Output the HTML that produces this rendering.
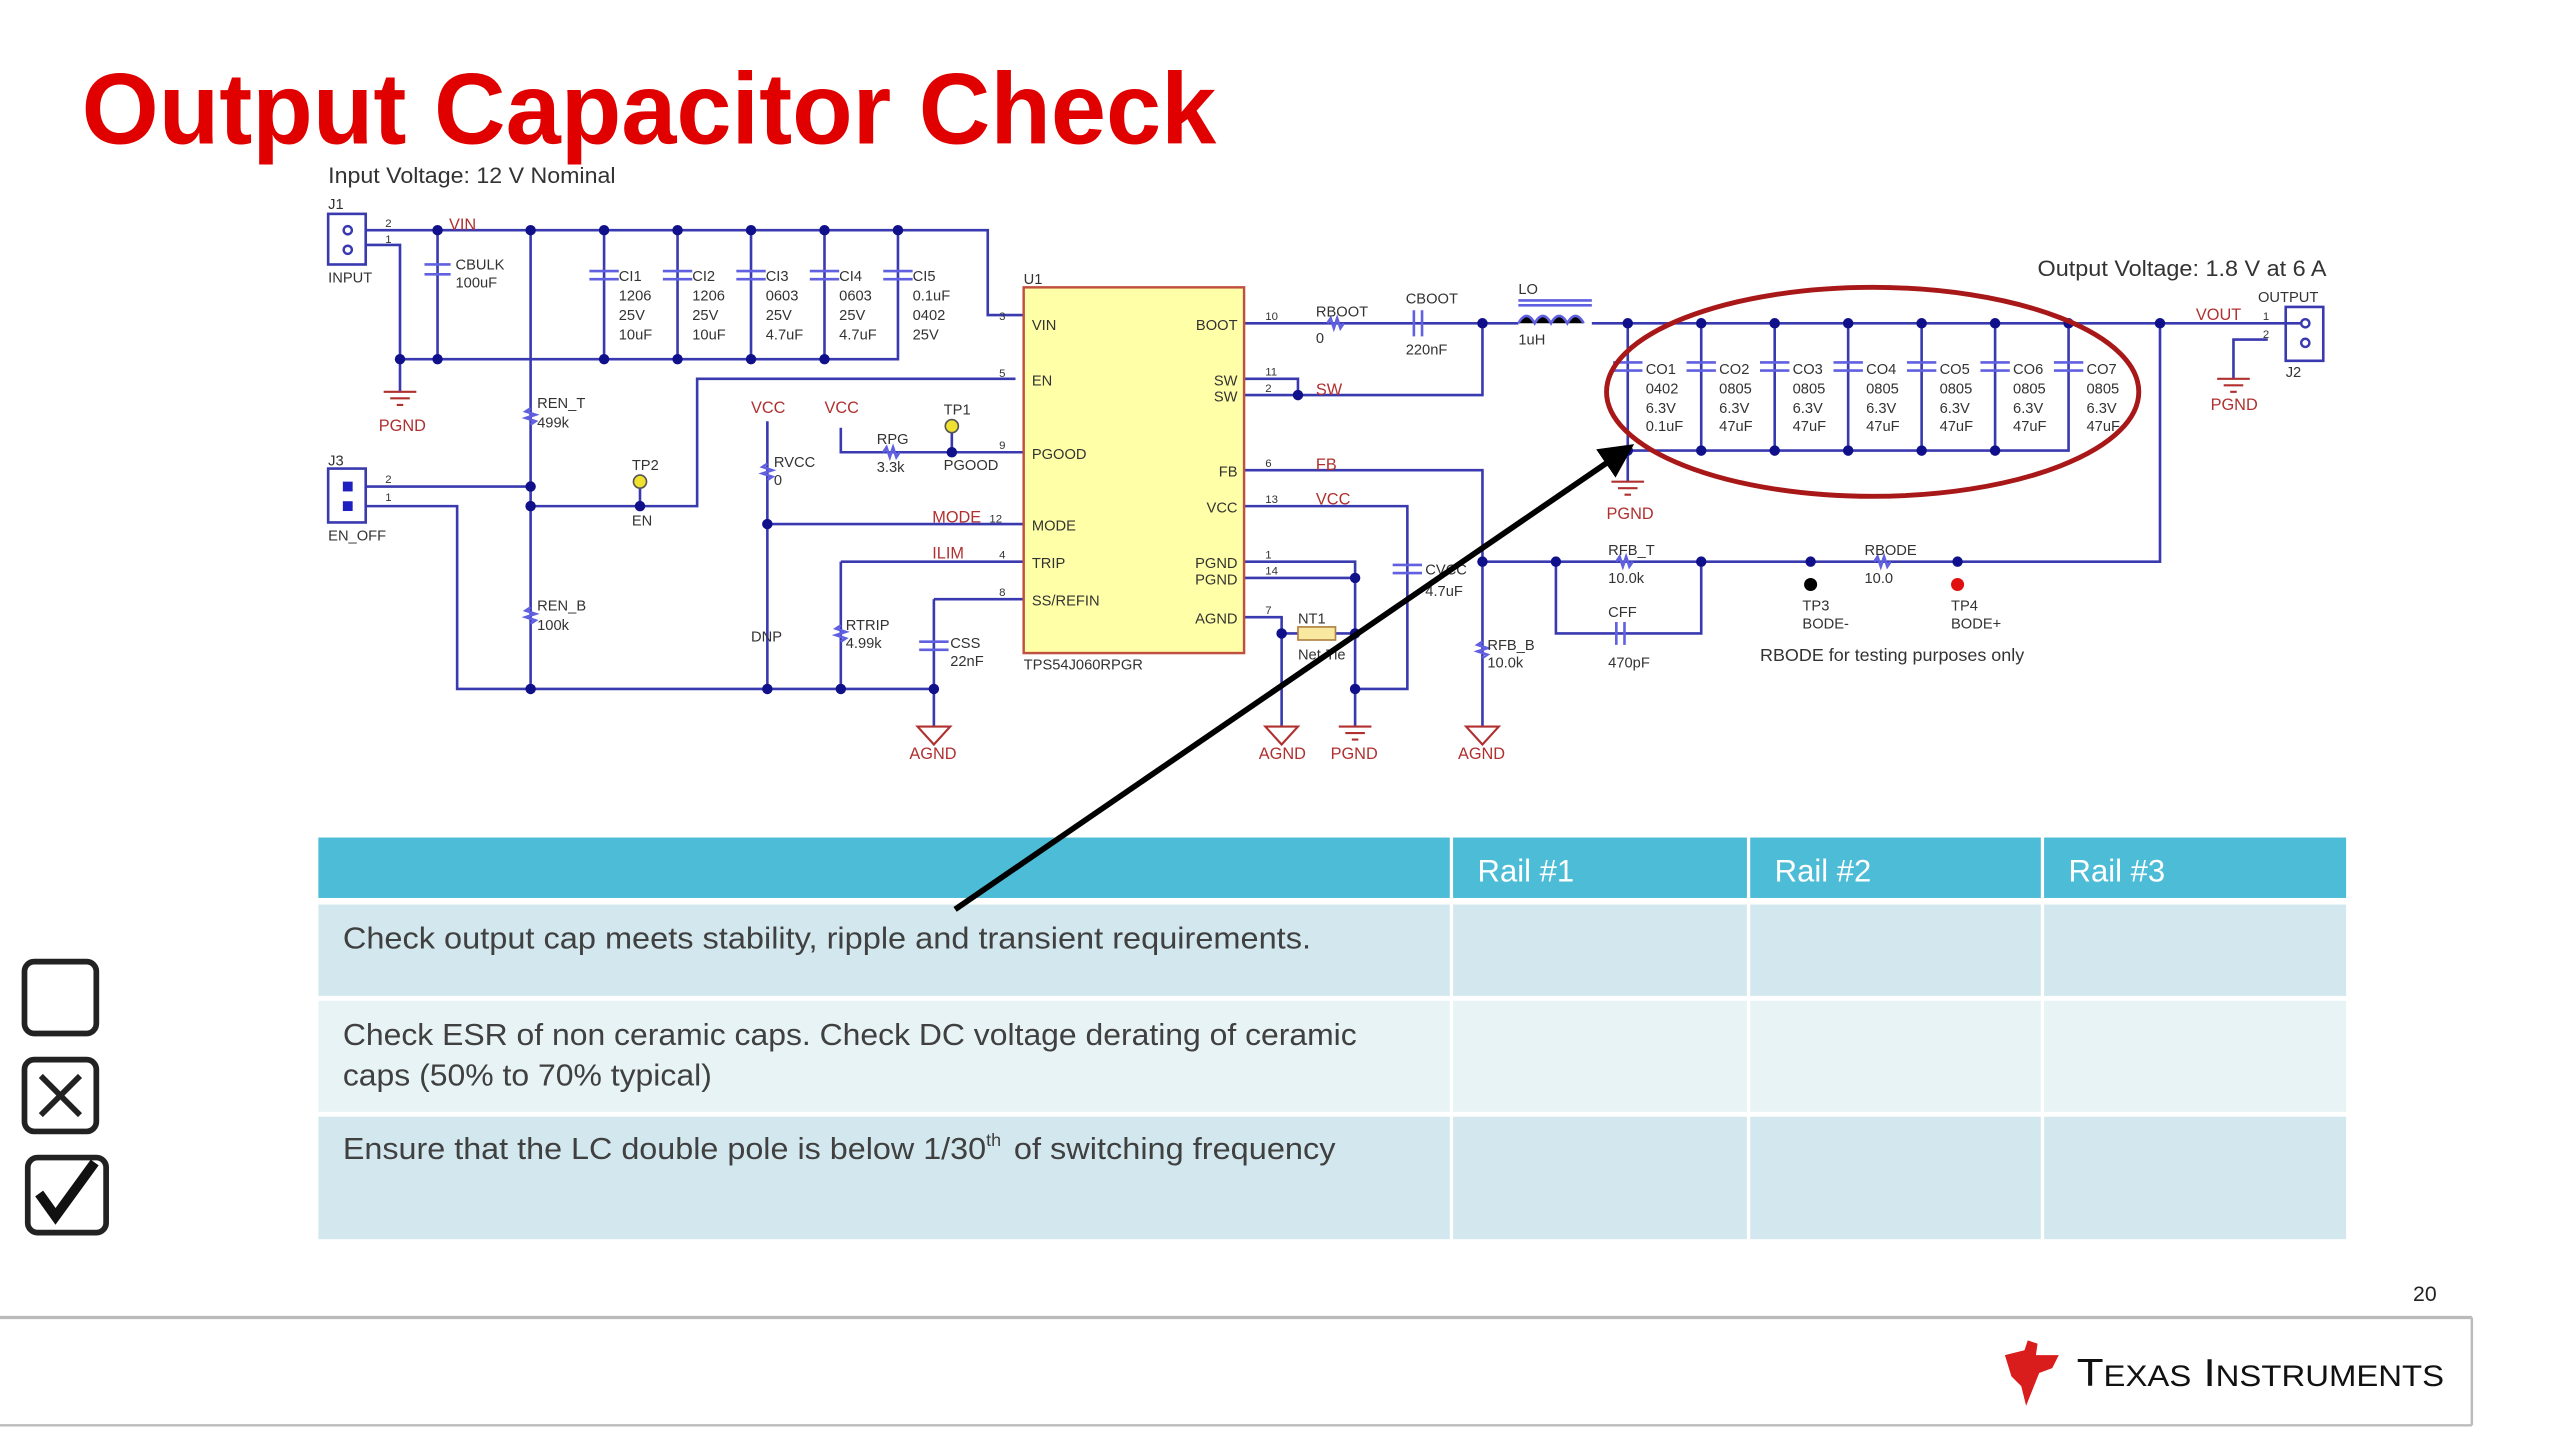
<!DOCTYPE html>
<html><head><meta charset="utf-8"><style>
html,body{margin:0;padding:0;background:#fff;width:2560px;height:1440px;overflow:hidden}
svg{display:block}
text{font-family:"Liberation Sans",sans-serif}
</style></head><body>
<svg width="2560" height="1440" viewBox="0 0 1568 882" preserveAspectRatio="none" xmlns="http://www.w3.org/2000/svg">
<defs>
<marker id="ah" markerWidth="6" markerHeight="6" refX="5" refY="3" orient="auto"><path d="M0,0 L6,3 L0,6 z" fill="#000"/></marker>
</defs>
<text x="50" y="88" font-size="62" font-weight="bold" fill="#e00000" textLength="695" lengthAdjust="spacingAndGlyphs">Output Capacitor Check</text>
<text x="201" y="112" font-size="13.5" fill="#333" textLength="176" lengthAdjust="spacingAndGlyphs">Input Voltage: 12 V Nominal</text>
<text x="1248" y="169" font-size="13.5" fill="#333" textLength="177" lengthAdjust="spacingAndGlyphs">Output Voltage: 1.8 V at 6 A</text>

<g stroke="#3a3ab0" stroke-width="1.6" fill="none">
<rect x="201" y="131" width="23" height="31"/>
<path d="M224,141 H605 V193 H627"/>
<path d="M224,150 H245 V220 H550 V141"/>
<path d="M268,141 V220"/>
<path d="M370,141V220 M415,141V220 M460,141V220 M505,141V220"/>
<path d="M245,220 V240"/>
<path d="M325,141 V422"/>
<rect x="201" y="287" width="23" height="33"/>
<path d="M224,298 H325"/>
<path d="M224,310 H280 V422 H572"/>
<path d="M325,310 H427 V232 H622"/>
<path d="M392,295 V310"/>
<path d="M470,258 V422"/>
<path d="M470,321 H627"/>
<path d="M515,262 V277 H627"/>
<path d="M583,262 V277"/>
<path d="M515,344 H627 M515,344 V422"/>
<path d="M572,367 H627 M572,367 V445"/>
<path d="M762,198 H930 M975,198 H1410"/>
<path d="M762,232 H795 V242 M762,242 H908 V198"/>
<path d="M762,288 H908 V445"/>
<path d="M762,310 H862 V422 H830"/>
<path d="M762,344 H830 V445 M762,354 H830"/>
<path d="M762,378 H785 V445"/>
<path d="M785,388 H795 M818,388 H830"/>
<path d="M908,344 H1323 V198"/>
<path d="M953,344 V388 H1042 V344"/>
<path d="M997,198 V295 M997,276 H1267 V198"/>
<path d="M1042,198V276 M1087,198V276 M1132,198V276 M1177,198V276 M1222,198V276"/>
<path d="M1389,208 H1368 V232"/>
<rect x="1400" y="188" width="23" height="33"/>
</g>
<g stroke="#6060e0" stroke-width="1.6">
<path d="M361,166h18M361,171h18 M406,166h18M406,171h18 M451,166h18M451,171h18 M496,166h18M496,171h18 M541,166h18M541,171h18"/>
<path d="M260,162h16 M260,168h16"/>
<path d="M988,222h18M988,227h18 M1033,222h18M1033,227h18 M1078,222h18M1078,227h18 M1123,222h18M1123,227h18 M1168,222h18M1168,227h18 M1213,222h18M1213,227h18 M1258,222h18M1258,227h18"/>
<path d="M866,190v16 M871,190v16 M853,346h18 M853,351h18 M563,393h18 M563,398h18 M990,381v14 M995,381v14"/>
<path d="M930,198 q5,-9 10,0 q5,-9 10,0 q5,-9 10,0 q5,-9 10,0 M930,187h45 M930,184h45"/>
<path d="M813,198 l2,-3 2,6 2,-6 2,6 2,-3 M541,277 l2,-3 2,6 2,-6 2,6 2,-3 M990,344 l2,-3 2,6 2,-6 2,6 2,-3 M1148,344 l2,-3 2,6 2,-6 2,6 2,-3 M325,250 l-3,2 6,2 -6,2 6,2 -3,2 M325,372 l-3,2 6,2 -6,2 6,2 -3,2 M470,284 l-3,2 6,2 -6,2 6,2 -3,2 M515,383 l-3,2 6,2 -6,2 6,2 -3,2 M908,393 l-3,2 6,2 -6,2 6,2 -3,2" fill="none"/>
</g>
<g fill="#10108a">
<circle cx="268" cy="141" r="3.2"/><circle cx="325" cy="141" r="3.2"/><circle cx="370" cy="141" r="3.2"/><circle cx="415" cy="141" r="3.2"/><circle cx="460" cy="141" r="3.2"/><circle cx="505" cy="141" r="3.2"/><circle cx="550" cy="141" r="3.2"/>
<circle cx="245" cy="220" r="3.2"/><circle cx="268" cy="220" r="3.2"/><circle cx="370" cy="220" r="3.2"/><circle cx="415" cy="220" r="3.2"/><circle cx="460" cy="220" r="3.2"/><circle cx="505" cy="220" r="3.2"/>
<circle cx="325" cy="298" r="3.2"/><circle cx="325" cy="310" r="3.2"/><circle cx="392" cy="310" r="3.2"/><circle cx="470" cy="321" r="3.2"/><circle cx="583" cy="277" r="3.2"/>
<circle cx="325" cy="422" r="3.2"/><circle cx="470" cy="422" r="3.2"/><circle cx="515" cy="422" r="3.2"/><circle cx="572" cy="422" r="3.2"/>
<circle cx="795" cy="242" r="3.2"/><circle cx="908" cy="198" r="3.2"/><circle cx="997" cy="198" r="3.2"/>
<circle cx="1042" cy="198" r="3.2"/><circle cx="1087" cy="198" r="3.2"/><circle cx="1132" cy="198" r="3.2"/><circle cx="1177" cy="198" r="3.2"/><circle cx="1222" cy="198" r="3.2"/><circle cx="1267" cy="198" r="3.2"/><circle cx="1323" cy="198" r="3.2"/>
<circle cx="997" cy="276" r="3.2"/><circle cx="1042" cy="276" r="3.2"/><circle cx="1087" cy="276" r="3.2"/><circle cx="1132" cy="276" r="3.2"/><circle cx="1177" cy="276" r="3.2"/><circle cx="1222" cy="276" r="3.2"/>
<circle cx="830" cy="354" r="3.2"/><circle cx="785" cy="388" r="3.2"/><circle cx="830" cy="388" r="3.2"/><circle cx="830" cy="422" r="3.2"/>
<circle cx="908" cy="344" r="3.2"/><circle cx="953" cy="344" r="3.2"/><circle cx="1042" cy="344" r="3.2"/><circle cx="1109" cy="344" r="3.2"/><circle cx="1199" cy="344" r="3.2"/>
</g>
<circle cx="1109" cy="358" r="4" fill="#000"/><circle cx="1199" cy="358" r="4" fill="#e01010"/>
<circle cx="392" cy="295" r="4" fill="#f0e030" stroke="#555"/><circle cx="583" cy="261" r="4" fill="#f0e030" stroke="#555"/>
<rect x="795" y="384" width="23" height="8" fill="#f8e8a0" stroke="#b08040"/>
<g fill="none" stroke="#3a3ab0" stroke-width="1.5"><circle cx="213" cy="141" r="2.5"/><circle cx="213" cy="153" r="2.5"/><circle cx="1412" cy="198" r="2.5"/><circle cx="1412" cy="210" r="2.5"/></g>
<rect x="210" y="295" width="6" height="6" fill="#2020c0"/><rect x="210" y="307" width="6" height="6" fill="#2020c0"/>
<rect x="627" y="176" width="135" height="224" fill="#ffffa8" stroke="#c05040" stroke-width="1.5"/>
<g font-size="9" fill="#333">
<text x="632" y="202">VIN</text><text x="632" y="236">EN</text><text x="632" y="281">PGOOD</text><text x="632" y="325">MODE</text><text x="632" y="348">TRIP</text><text x="632" y="371">SS/REFIN</text>
<text x="758" y="202" text-anchor="end">BOOT</text><text x="758" y="236" text-anchor="end">SW</text><text x="758" y="246" text-anchor="end">SW</text><text x="758" y="292" text-anchor="end">FB</text><text x="758" y="314" text-anchor="end">VCC</text><text x="758" y="348" text-anchor="end">PGND</text><text x="758" y="358" text-anchor="end">PGND</text><text x="758" y="382" text-anchor="end">AGND</text>
<text x="627" y="410">TPS54J060RPGR</text><text x="627" y="174">U1</text>
<text x="201" y="128">J1</text><text x="201" y="173">INPUT</text><text x="201" y="285">J3</text><text x="201" y="331">EN_OFF</text>
<text x="279" y="165">CBULK</text><text x="279" y="176">100uF</text>
<text x="379" y="172">CI1</text><text x="379" y="184">1206</text><text x="379" y="196">25V</text><text x="379" y="208">10uF</text>
<text x="424" y="172">CI2</text><text x="424" y="184">1206</text><text x="424" y="196">25V</text><text x="424" y="208">10uF</text>
<text x="469" y="172">CI3</text><text x="469" y="184">0603</text><text x="469" y="196">25V</text><text x="469" y="208">4.7uF</text>
<text x="514" y="172">CI4</text><text x="514" y="184">0603</text><text x="514" y="196">25V</text><text x="514" y="208">4.7uF</text>
<text x="559" y="172">CI5</text><text x="559" y="184">0.1uF</text><text x="559" y="196">0402</text><text x="559" y="208">25V</text>
<text x="329" y="250">REN_T</text><text x="329" y="262">499k</text><text x="329" y="374">REN_B</text><text x="329" y="386">100k</text>
<text x="387" y="288">TP2</text><text x="387" y="322">EN</text><text x="578" y="254">TP1</text><text x="578" y="288">PGOOD</text>
<text x="537" y="272">RPG</text><text x="537" y="289">3.3k</text><text x="474" y="286">RVCC</text><text x="474" y="297">0</text>
<text x="518" y="386">RTRIP</text><text x="518" y="397">4.99k</text><text x="582" y="397">CSS</text><text x="582" y="408">22nF</text><text x="460" y="393">DNP</text>
<text x="806" y="194">RBOOT</text><text x="806" y="210">0</text><text x="861" y="186">CBOOT</text><text x="861" y="217">220nF</text>
<text x="930" y="180">LO</text><text x="930" y="211">1uH</text>
<text x="1008" y="229">CO1</text><text x="1008" y="241">0402</text><text x="1008" y="253">6.3V</text><text x="1008" y="264">0.1uF</text>
<text x="1053" y="229">CO2</text><text x="1053" y="241">0805</text><text x="1053" y="253">6.3V</text><text x="1053" y="264">47uF</text>
<text x="1098" y="229">CO3</text><text x="1098" y="241">0805</text><text x="1098" y="253">6.3V</text><text x="1098" y="264">47uF</text>
<text x="1143" y="229">CO4</text><text x="1143" y="241">0805</text><text x="1143" y="253">6.3V</text><text x="1143" y="264">47uF</text>
<text x="1188" y="229">CO5</text><text x="1188" y="241">0805</text><text x="1188" y="253">6.3V</text><text x="1188" y="264">47uF</text>
<text x="1233" y="229">CO6</text><text x="1233" y="241">0805</text><text x="1233" y="253">6.3V</text><text x="1233" y="264">47uF</text>
<text x="1278" y="229">CO7</text><text x="1278" y="241">0805</text><text x="1278" y="253">6.3V</text><text x="1278" y="264">47uF</text>
<text x="1383" y="185">OUTPUT</text><text x="1400" y="231">J2</text>
<text x="795" y="382">NT1</text><text x="795" y="404">Net-Tie</text><text x="873" y="352">CVCC</text><text x="873" y="365">4.7uF</text>
<text x="911" y="398">RFB_B</text><text x="911" y="409">10.0k</text><text x="985" y="340">RFB_T</text><text x="985" y="357">10.0k</text>
<text x="985" y="378">CFF</text><text x="985" y="409">470pF</text><text x="1142" y="340">RBODE</text><text x="1142" y="357">10.0</text>
<text x="1104" y="374">TP3</text><text x="1104" y="385">BODE-</text><text x="1195" y="374">TP4</text><text x="1195" y="385">BODE+</text>
</g>
<text x="1078" y="405" font-size="11" fill="#333">RBODE for testing purposes only</text>
<g font-size="10" fill="#b03030">
<text x="275" y="141">VIN</text><text x="232" y="264">PGND</text><text x="460" y="253">VCC</text><text x="505" y="253">VCC</text>
<text x="571" y="320">MODE</text><text x="571" y="342">ILIM</text><text x="806" y="242">SW</text><text x="806" y="288">FB</text><text x="806" y="309">VCC</text>
<text x="984" y="318">PGND</text><text x="1345" y="196">VOUT</text><text x="1354" y="251">PGND</text>
<text x="557" y="465">AGND</text><text x="771" y="465">AGND</text><text x="815" y="465">PGND</text><text x="893" y="465">AGND</text>
</g>
<g stroke="#b03030" stroke-width="1.3" fill="none">
<path d="M235,240h20 M239,244h12 M243,248h4 M987,295h20 M991,299h12 M995,303h4 M1358,232h20 M1362,236h12 M1366,240h4 M820,445h20 M824,449h12 M828,453h4"/>
<path d="M562,445h20l-10,11z M775,445h20l-10,11z M898,445h20l-10,11z"/>
</g>
<g font-size="7" fill="#333"><text x="612" y="196">3</text><text x="612" y="231">5</text><text x="612" y="275">9</text><text x="606" y="320">12</text><text x="612" y="342">4</text><text x="612" y="365">8</text>
<text x="775" y="196">10</text><text x="775" y="230">11</text><text x="775" y="240">2</text><text x="775" y="286">6</text><text x="775" y="308">13</text><text x="775" y="342">1</text><text x="775" y="352">14</text><text x="775" y="376">7</text>
<text x="236" y="139">2</text><text x="236" y="149">1</text><text x="236" y="296">2</text><text x="236" y="307">1</text><text x="1386" y="196">1</text><text x="1386" y="207">2</text></g>
<ellipse cx="1147" cy="240" rx="163" ry="64" fill="none" stroke="#a81818" stroke-width="3"/>

<rect x="195" y="513" width="1242" height="37" fill="#4dbcd6"/>
<rect x="195" y="554" width="1242" height="56" fill="#d3e8ee"/>
<rect x="195" y="613" width="1242" height="68" fill="#e7f3f5"/>
<rect x="195" y="684" width="1242" height="75" fill="#d3e8ee"/>
<g stroke="#fff" stroke-width="2"><path d="M889,513V759 M1071,513V759 M1251,513V759"/></g>
<g font-size="19" fill="#fff"><text x="905" y="540">Rail #1</text><text x="1087" y="540">Rail #2</text><text x="1267" y="540">Rail #3</text></g>
<g font-size="18.5" fill="#404040">
<text x="210" y="581" textLength="593" lengthAdjust="spacingAndGlyphs">Check output cap meets stability, ripple and transient requirements.</text>
<text x="210" y="640" textLength="621" lengthAdjust="spacingAndGlyphs">Check ESR of non ceramic caps. Check DC voltage derating of ceramic</text>
<text x="210" y="665" textLength="226" lengthAdjust="spacingAndGlyphs">caps (50% to 70% typical)</text>
<text x="210" y="710" textLength="394" lengthAdjust="spacingAndGlyphs">Ensure that the LC double pole is below 1/30</text>
<text x="604" y="702" font-size="11">th</text>
<text x="621" y="710" textLength="197" lengthAdjust="spacingAndGlyphs">of switching frequency</text>
</g>
<line x1="585" y1="557" x2="998" y2="274" stroke="#000" stroke-width="3.5" marker-end="url(#ah)"/>
<g fill="none" stroke="#222" stroke-width="3.5">
<rect x="15" y="589" width="44" height="44" rx="6"/>
<rect x="15" y="649" width="44" height="44" rx="6"/>
<path d="M25,659 L49,683 M49,659 L25,683"/>
<rect x="17" y="709" width="48" height="46" rx="6"/>
</g>
<path d="M24,731 L34,745 L58,712" fill="none" stroke="#111" stroke-width="6"/>
<text x="1478" y="797" font-size="13" fill="#222">20</text>
<line x1="0" y1="807" x2="1514" y2="807" stroke="#bbb" stroke-width="2"/>
<line x1="1514" y1="807" x2="1514" y2="873" stroke="#bbb" stroke-width="1.5"/>
<line x1="0" y1="873" x2="1514" y2="873" stroke="#bbb" stroke-width="1.5"/>
<path d="M1228,830 l12,-3 2,-6 6,2 -1,7 14,0 -4,8 -8,3 -4,10 -4,10 -3,-12 -6,-6z" fill="#d91c1c"/>
<text x="1272" y="849" font-family="Liberation Serif" font-size="24" fill="#111" textLength="225" lengthAdjust="spacingAndGlyphs">T<tspan font-size="18">EXAS</tspan> I<tspan font-size="18">NSTRUMENTS</tspan></text>
</svg>
</body></html>
